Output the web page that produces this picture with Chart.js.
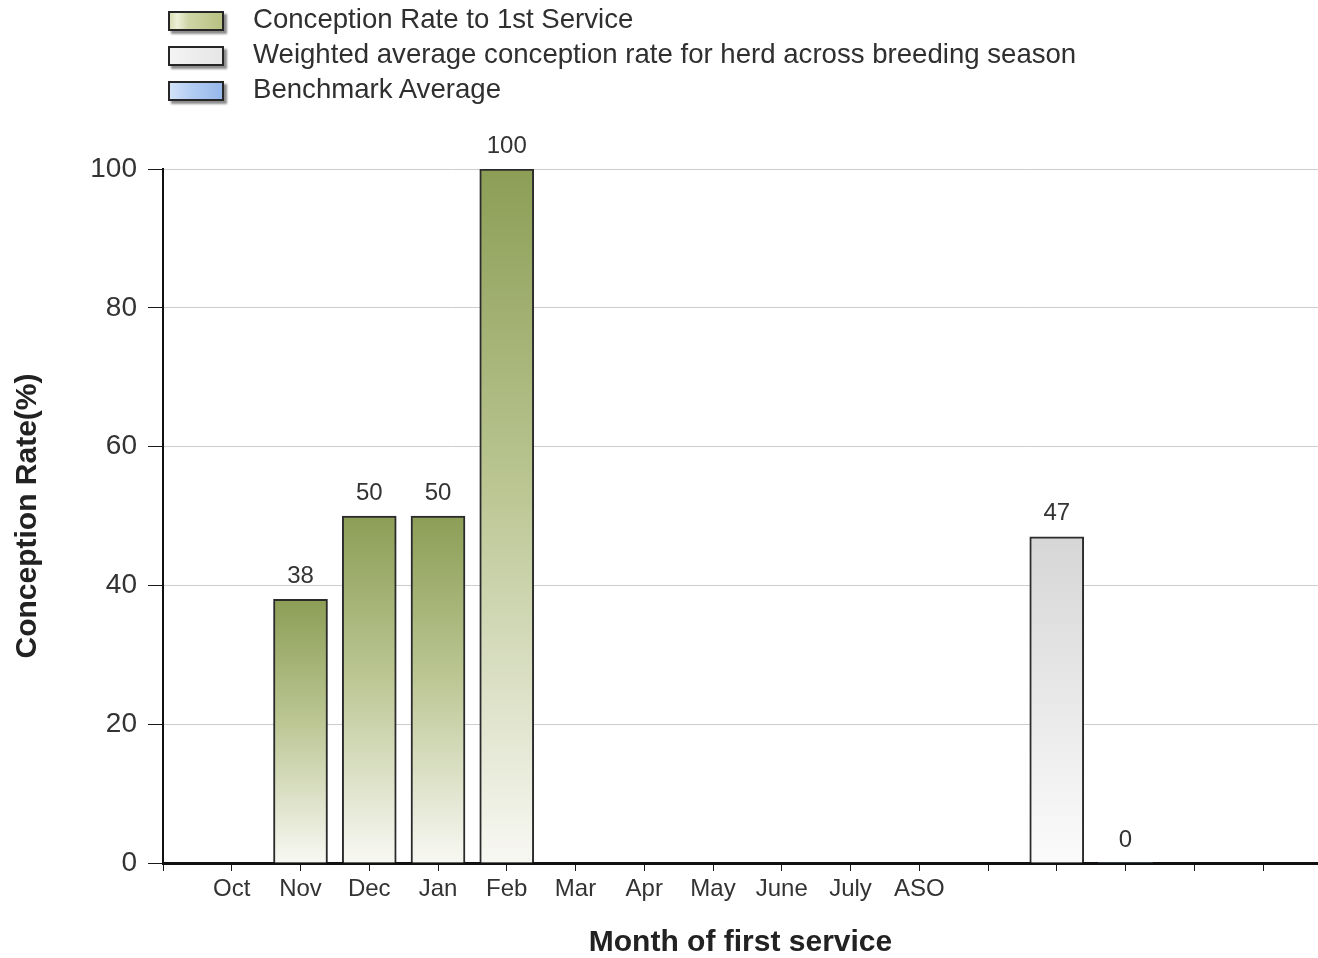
<!DOCTYPE html>
<html>
<head>
<meta charset="utf-8">
<title>Conception Rate to 1st Service</title>
<script src="https://cdn.jsdelivr.net/npm/chart.js@4.4.1/dist/chart.umd.min.js"></script>
<style>
  html, body { margin: 0; padding: 0; background: #fff; overflow: hidden; }
  #wrap { position: relative; width: 1318px; height: 958px; }
  #chart { position: absolute; left: 0; top: 0; }
  #legend {
    position: absolute; left: 168px; top: 0;
    font-family: "Liberation Sans", Arial, sans-serif; font-size: 27.6px; color: #2f2f2f;
  }
  .legend-row { position: absolute; left: 0; height: 35px; white-space: nowrap; }
  .legend-box {
    position: absolute; left: 0; top: 10px; width: 52px; height: 16px;
    border: 2px solid #262626; box-shadow: 3px 3px 2px rgba(0,0,0,0.45);
  }
  .legend-text { position: absolute; left: 85px; top: 0; line-height: 35px; }
</style>
</head>
<body>
<div id="wrap">
  <canvas id="chart" width="1318" height="958"></canvas>
  <div id="legend"></div>
</div>
<script>
// Month slots along the x axis (slot 0 and the trailing slots carry no month name)
const categories = ['', 'Oct', 'Nov', 'Dec', 'Jan', 'Feb', 'Mar', 'Apr', 'May', 'June', 'July', 'ASO', '', '', '', '', ''];

// Conception rate (%) per slot
const firstServiceRate = [null, null, 38, 50, 50, 100, null, null, null, null, null, null, null, null, null, null, null];
const weightedAverage  = [null, null, null, null, null, null, null, null, null, null, null, null, null, 47, null, null, null];
const benchmarkAverage = [null, null, null, null, null, null, null, null, null, null, null, null, null, null, 0, null, null];

const yTicks = [0, 20, 40, 60, 80, 100];

const seriesNames = [
  'Conception Rate to 1st Service',
  'Weighted average conception rate for herd across breeding season',
  'Benchmark Average'
];

// Visual styling
const greenStops = [[0, '#8c9e56'], [0.45, '#bac591'], [1, '#f8f8f3']];
const greyStops  = [[0, '#d6d6d6'], [1, '#fbfbfb']];
const legendSwatches = [
  'linear-gradient(to right, #d9deb4 0%, #eef0d8 14%, #cfd5a6 35%, #b8c182 100%)',
  'linear-gradient(to right, #f4f4f4 0%, #e6e6e6 100%)',
  'linear-gradient(to right, #d2e1f7 0%, #b3cdf2 40%, #96b8ea 100%)'
];
const FONT = '"Liberation Sans", Arial, sans-serif';

function toPoints(values) {
  return values.map((v, i) => ({ x: i, y: v })).filter(p => p.y !== null);
}

function barGradient(stops) {
  return (ctx) => {
    const chart = ctx.chart;
    const ys = chart.scales && chart.scales.y;
    if (!chart.chartArea || !ys || ctx.type !== 'data' || !ctx.raw) return stops[0][1];
    const top = ys.getPixelForValue(ctx.raw.y);
    const base = ys.getPixelForValue(0);
    if (base - top < 1) return stops[0][1];
    const g = chart.ctx.createLinearGradient(0, top, 0, base);
    stops.forEach(([o, c]) => g.addColorStop(o, c));
    return g;
  };
}

// Value printed above each bar
const valueLabels = {
  id: 'valueLabels',
  afterDatasetsDraw(chart) {
    const c = chart.ctx;
    c.save();
    c.font = '24px ' + FONT;
    c.fillStyle = '#333';
    c.textAlign = 'center';
    c.textBaseline = 'middle';
    chart.data.datasets.forEach((ds, di) => {
      chart.getDatasetMeta(di).data.forEach((el, i) => {
        c.fillText(String(ds.data[i].y), el.x, el.y - 23);
      });
    });
    c.restore();
  }
};

Chart.defaults.font.family = FONT;
Chart.defaults.color = '#333';

const chart = new Chart(document.getElementById('chart'), {
  type: 'bar',
  data: {
    datasets: [
      { label: seriesNames[0], data: toPoints(firstServiceRate), backgroundColor: barGradient(greenStops), borderColor: '#2b2b2b', borderWidth: 2 },
      { label: seriesNames[1], data: toPoints(weightedAverage), backgroundColor: barGradient(greyStops), borderColor: '#2b2b2b', borderWidth: 2 },
      { label: seriesNames[2], data: toPoints(benchmarkAverage), backgroundColor: '#a9c4ee', borderWidth: 0 }
    ]
  },
  options: {
    responsive: false,
    animation: false,
    devicePixelRatio: 1,
    layout: { padding: { top: 169, left: 0, right: 0, bottom: 0 } },
    datasets: { bar: { barThickness: 54, grouped: false, borderSkipped: 'start' } },
    plugins: { legend: { display: false }, tooltip: { enabled: false } },
    scales: {
      x: {
        type: 'linear', min: 0, max: 16.8, offset: false, z: 1,
        grid: { drawOnChartArea: false, drawTicks: true, tickLength: 8, tickColor: '#1a1a1a', offset: false },
        border: { display: true, color: '#111', width: 3 },
        ticks: {
          stepSize: 1, includeBounds: false, autoSkip: false, maxRotation: 0, minRotation: 0,
          padding: 4, font: { size: 24 }, color: '#333',
          callback: (v) => categories[v] ?? ''
        },
        title: { display: true, text: 'Month of first service', font: { size: 30, weight: 'bold', lineHeight: 1 }, color: '#222', padding: 0 },
        afterFit: (s) => { s.height = 95; }
      },
      y: {
        min: 0, max: 100,
        grid: {
          color: (c) => (c.tick && c.tick.value === 0) ? 'rgba(0,0,0,0)' : '#cdcdcd',
          lineWidth: 1, tickLength: 15, tickColor: '#1a1a1a'
        },
        border: { color: '#111', width: 2 },
        ticks: { padding: 11, font: { size: 28 }, color: '#333' },
        afterBuildTicks: (s) => { s.ticks = yTicks.map(v => ({ value: v })); },
        title: { display: true, text: 'Conception Rate(%)', font: { size: 30, weight: 'bold', lineHeight: 1 }, color: '#222', padding: { top: 13, bottom: 0 } },
        afterFit: (s) => { s.width = 163; }
      }
    }
  },
  plugins: [valueLabels]
});

// Legend rows built from the dataset labels
const legend = document.getElementById('legend');
chart.data.datasets.forEach((ds, i) => {
  const row = document.createElement('div');
  row.className = 'legend-row';
  row.style.top = (i * 35 + 1) + 'px';
  const box = document.createElement('div');
  box.className = 'legend-box';
  box.style.background = legendSwatches[i];
  const text = document.createElement('div');
  text.className = 'legend-text';
  text.textContent = ds.label;
  row.appendChild(box);
  row.appendChild(text);
  legend.appendChild(row);
});
</script>
</body>
</html>
